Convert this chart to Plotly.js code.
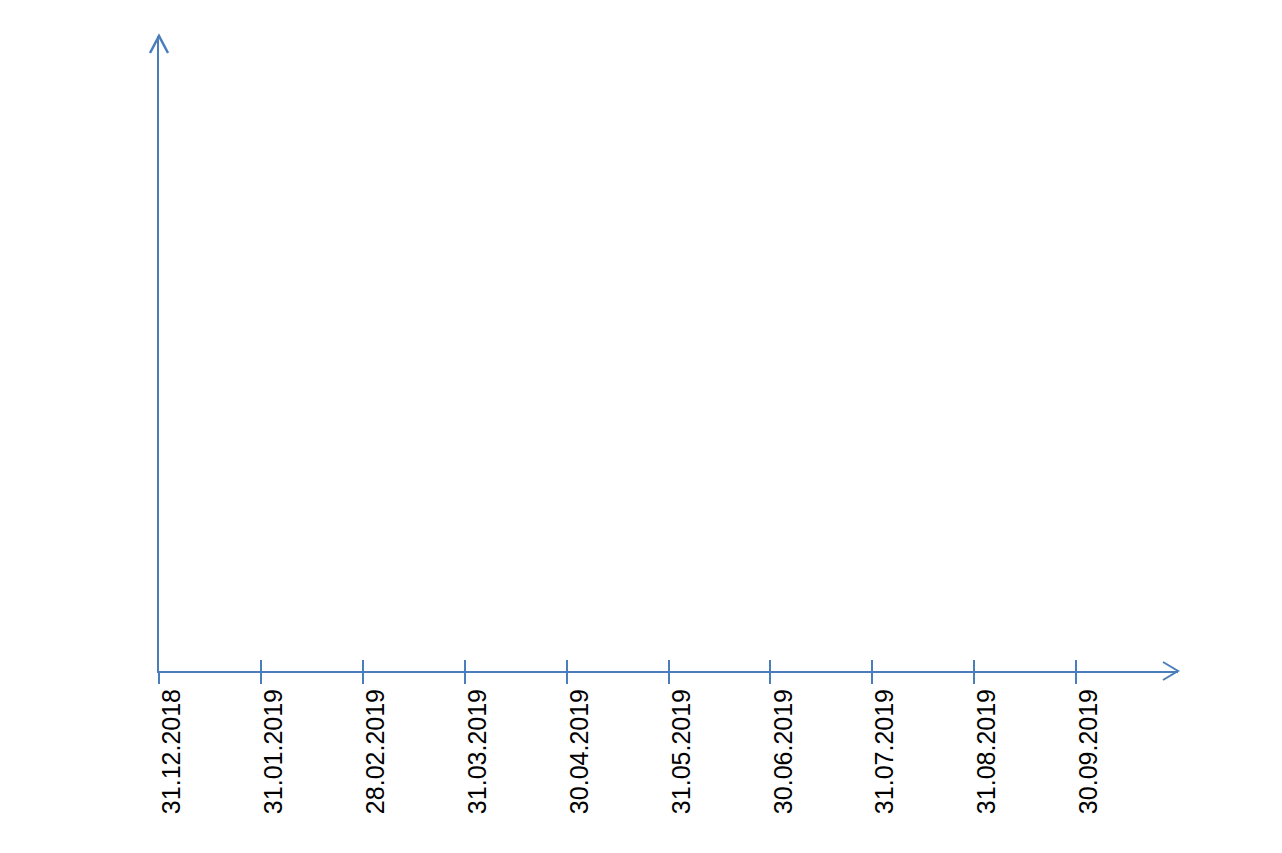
<!DOCTYPE html>
<html>
<head>
<meta charset="utf-8">
<script src="https://cdn.plot.ly/plotly-3.0.1.min.js"></script>
<style>
  html, body { margin: 0; padding: 0; background: #fff; }
  #chart { width: 1282px; height: 853px; }
</style>
</head>
<body>
<div id="chart"></div>
<script>
// Month-end dates on the category axis
const dates = ["31.12.2018", "31.01.2019", "28.02.2019", "31.03.2019", "30.04.2019",
               "31.05.2019", "30.06.2019", "31.07.2019", "31.08.2019", "30.09.2019"];
// The chart carries no plotted values
const values = [null, null, null, null, null, null, null, null, null, null];

const axisColor = "#4a7ebb";

const emptyTrace = {
  type: "scatter",
  mode: "lines",
  x: dates,
  y: values,
  hoverinfo: "skip",
  showlegend: false
};

const layout = {
  width: 1282,
  height: 853,
  margin: { l: 159, r: 104, t: 36, b: 182 },
  paper_bgcolor: "#fff",
  plot_bgcolor: "#fff",
  showlegend: false,
  font: { family: "Liberation Sans, Arial, sans-serif", color: "#000" },
  xaxis: {
    type: "category",
    categoryorder: "array",
    categoryarray: dates,
    range: [0, dates.length],
    showgrid: false,
    zeroline: false,
    showline: true,
    linecolor: axisColor,
    linewidth: 2,
    ticks: "outside",
    ticklen: 11,
    tickwidth: 2,
    tickcolor: axisColor,
    tickangle: -90,
    ticklabelshift: 13,
    ticklabelstandoff: -5,
    tickfont: { size: 25, color: "#000" },
    fixedrange: true
  },
  // overlay axis only draws the upper half of the crossing tick marks
  xaxis2: {
    type: "category",
    categoryorder: "array",
    categoryarray: dates,
    range: [0, dates.length],
    overlaying: "x",
    anchor: "y",
    side: "bottom",
    showgrid: false,
    zeroline: false,
    showline: false,
    ticks: "inside",
    ticklen: 11,
    tickwidth: 2,
    tickcolor: axisColor,
    showticklabels: false,
    fixedrange: true
  },
  yaxis: {
    range: [0, 1],
    showgrid: false,
    zeroline: false,
    showline: true,
    linecolor: axisColor,
    linewidth: 2.5,
    ticks: "",
    showticklabels: false,
    fixedrange: true
  },
  shapes: [
    // arrow head at the end of the x axis
    {
      type: "path", xref: "paper", yref: "paper",
      xsizemode: "pixel", ysizemode: "pixel", xanchor: 1, yanchor: 0,
      path: "M-15,9L0,0L-15,-9",
      line: { color: axisColor, width: 2 }
    },
    // arrow head at the top of the y axis
    {
      type: "path", xref: "paper", yref: "paper",
      xsizemode: "pixel", ysizemode: "pixel", xanchor: 0, yanchor: 1,
      path: "M-9,-17L0,0L9,-17",
      line: { color: axisColor, width: 2.5 }
    }
  ]
};

const trace2 = Object.assign({}, emptyTrace, { xaxis: "x2" });

Plotly.newPlot("chart", [emptyTrace, trace2], layout, { displayModeBar: false, staticPlot: true });
</script>
</body>
</html>
